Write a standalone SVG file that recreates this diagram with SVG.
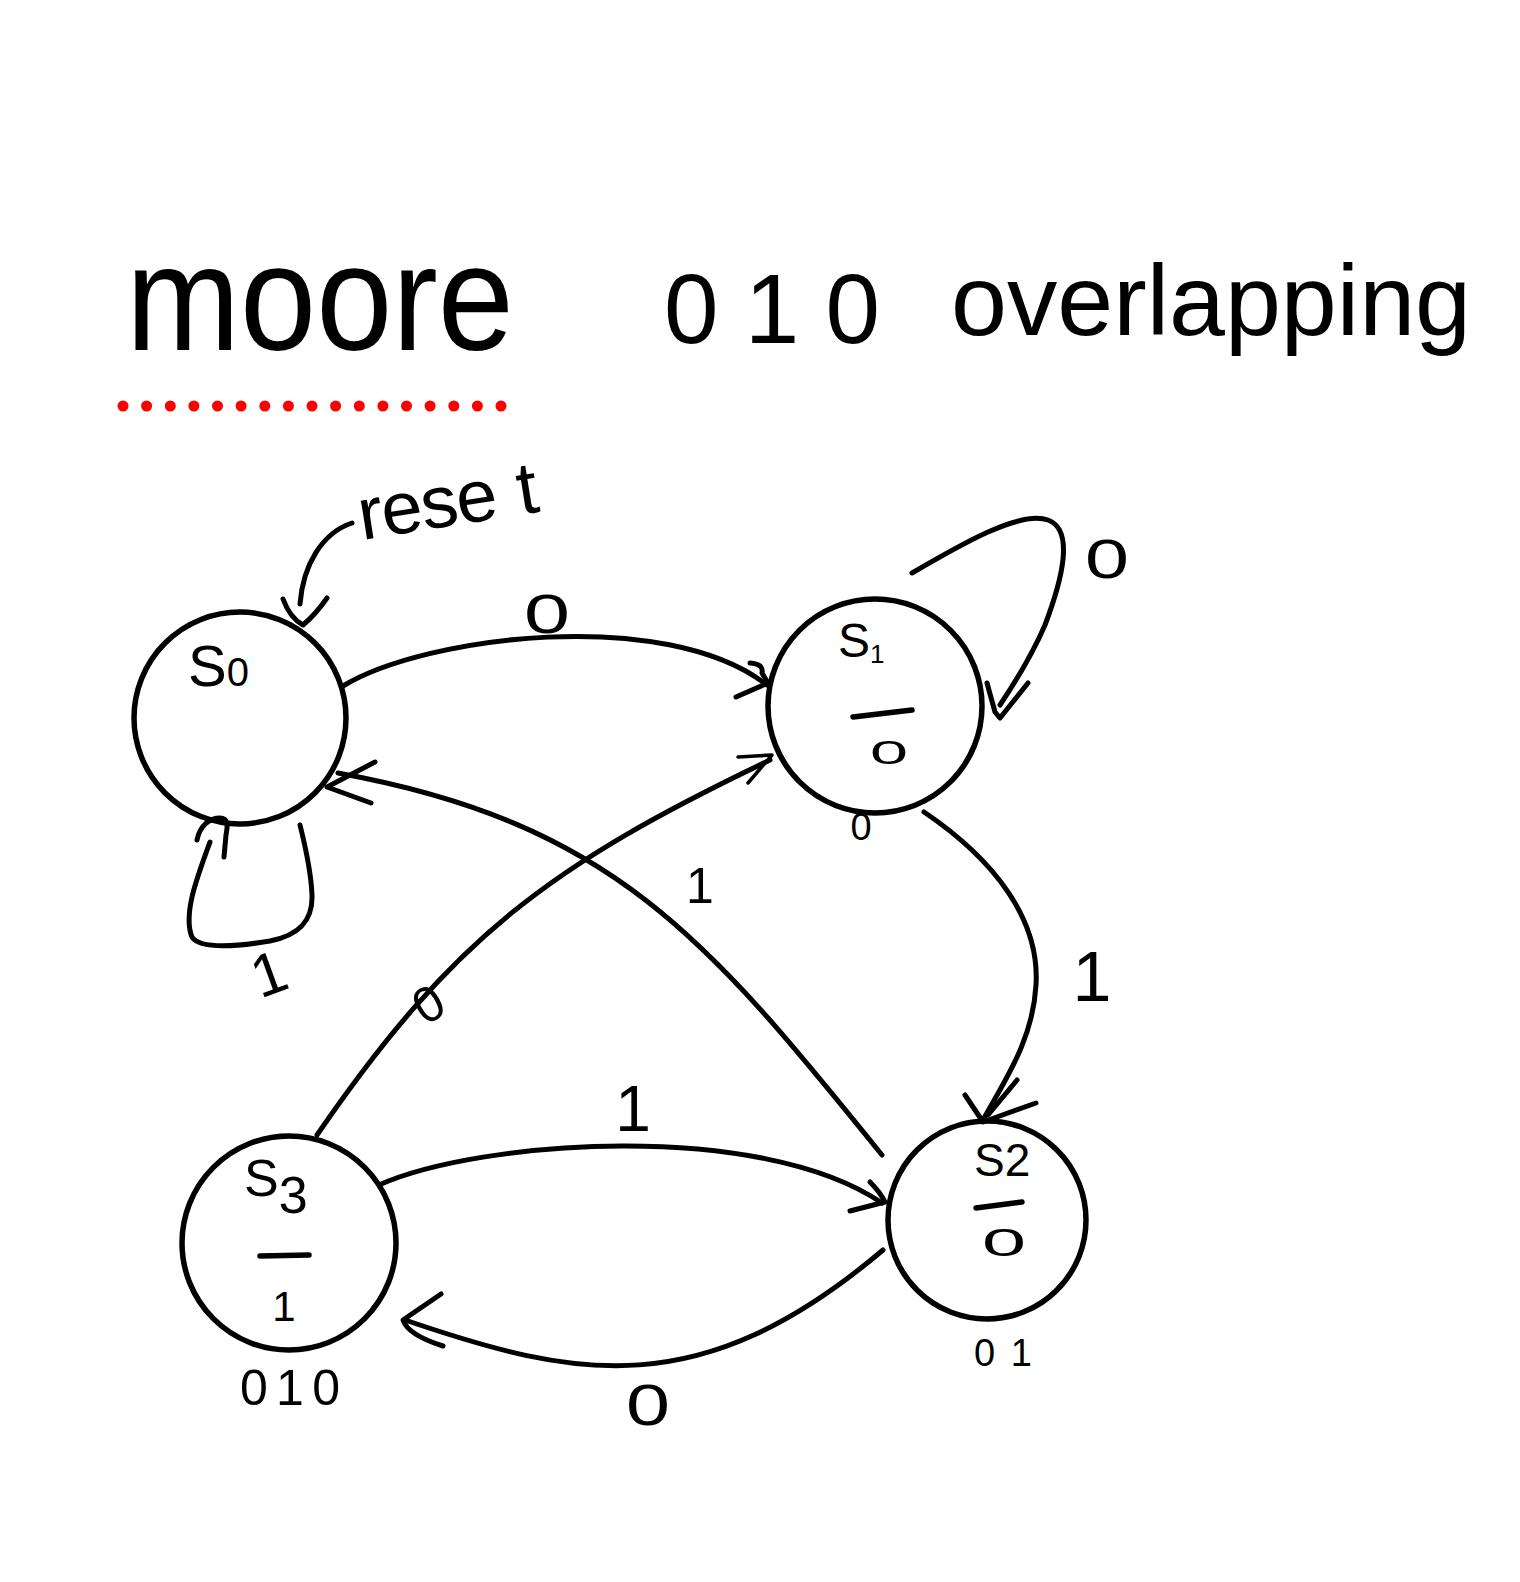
<svg xmlns="http://www.w3.org/2000/svg" width="1520" height="1582" viewBox="0 0 1520 1582">
<style>
  .node { fill: none; stroke: #000; stroke-width: 5.5; }
  .edge { fill: none; stroke: #000; stroke-width: 5; stroke-linecap: round; stroke-linejoin: round; }
  .head { fill: none; stroke: #000; stroke-width: 5; stroke-linecap: round; stroke-linejoin: round; }
  .thin { fill: none; stroke: #000; stroke-width: 3.5; stroke-linecap: round; stroke-linejoin: round; }
  .bar { fill: none; stroke: #000; stroke-width: 5.5; stroke-linecap: round; }
  .t { font-family: "Liberation Sans", Arial, sans-serif; fill: #000; }
  .dot { fill: #ff0000; }
</style>
<rect width="1520" height="1582" fill="#fff"/>

<g id="title">
  <text class="t" x="126" y="350" font-size="150" textLength="388" lengthAdjust="spacingAndGlyphs">moore</text>
  <text class="t" x="664" y="343" font-size="98" textLength="216" lengthAdjust="spacing">010</text>
  <text class="t" x="951" y="335" font-size="100" textLength="520" lengthAdjust="spacingAndGlyphs">overlapping</text>
</g>

<g id="underline">
  <circle class="dot" cx="123" cy="406" r="5.5"/>
  <circle class="dot" cx="146.6" cy="406" r="5.5"/>
  <circle class="dot" cx="170.3" cy="406" r="5.5"/>
  <circle class="dot" cx="193.9" cy="406" r="5.5"/>
  <circle class="dot" cx="217.5" cy="406" r="5.5"/>
  <circle class="dot" cx="241.1" cy="406" r="5.5"/>
  <circle class="dot" cx="264.8" cy="406" r="5.5"/>
  <circle class="dot" cx="288.4" cy="406" r="5.5"/>
  <circle class="dot" cx="312" cy="406" r="5.5"/>
  <circle class="dot" cx="335.6" cy="406" r="5.5"/>
  <circle class="dot" cx="359.3" cy="406" r="5.5"/>
  <circle class="dot" cx="382.9" cy="406" r="5.5"/>
  <circle class="dot" cx="406.5" cy="406" r="5.5"/>
  <circle class="dot" cx="430.1" cy="406" r="5.5"/>
  <circle class="dot" cx="453.8" cy="406" r="5.5"/>
  <circle class="dot" cx="477.4" cy="406" r="5.5"/>
  <circle class="dot" cx="501" cy="406" r="5.5"/>
</g>

<g id="S0">
  <circle class="node" cx="240" cy="718" r="106"/>
  <text class="t" x="188" y="686" font-size="58">S<tspan font-size="40">0</tspan></text>
</g>

<g id="S1">
  <circle class="node" cx="875" cy="706" r="107"/>
  <text class="t" x="838" y="657" font-size="48">S<tspan font-size="26" dy="6">1</tspan></text>
  <path class="bar" d="M853,717 L912,710"/>
  <text class="t" x="870" y="764" font-size="34" textLength="38" lengthAdjust="spacingAndGlyphs">0</text>
  <text class="t" x="861" y="840" font-size="38" text-anchor="middle">0</text>
</g>

<g id="S2">
  <circle class="node" cx="987" cy="1220" r="99"/>
  <text class="t" x="974" y="1176" font-size="46">S2</text>
  <path class="bar" d="M976,1208 L1022,1202"/>
  <text class="t" x="982" y="1256" font-size="38" textLength="44" lengthAdjust="spacingAndGlyphs">0</text>
  <text class="t" x="974" y="1366" font-size="38" textLength="58" lengthAdjust="spacing">01</text>
</g>

<g id="S3">
  <circle class="node" cx="289" cy="1243" r="107"/>
  <text class="t" x="244" y="1196" font-size="52">S<tspan dy="17">3</tspan></text>
  <path class="bar" d="M260,1256 L309,1255"/>
  <text class="t" x="284" y="1321" font-size="42" text-anchor="middle">1</text>
  <text class="t" x="240" y="1405" font-size="50" textLength="100" lengthAdjust="spacing">010</text>
</g>

<g id="connectors">
  <!-- reset -->
  <path class="edge" d="M352,523 C322,533 303,565 300,604"/>
  <path class="head" d="M283,599 Q290,618 303,625 Q316,614 327,598"/>
  <!-- S0 -> S1 -->
  <path class="edge" d="M343,686 C425,636 665,606 767,685"/>
  <path class="head" d="M750,663 Q764,664 762,673 L768,683 L736,697"/>
  <!-- S1 self loop -->
  <path class="edge" d="M912,573 C960,545 1020,510 1048,520 C1075,530 1062,580 1045,625 C1030,660 1010,690 1000,705"/>
  <path class="head" d="M987,683 L995,712 L1000,718 L1028,683"/>
  <!-- S0 self loop -->
  <path class="edge" d="M210,842 C196,880 183,915 192,937 C200,950 240,946 270,941 C300,935 313,920 312,895 C311,870 305,845 300,825"/>
  <path class="head" d="M197,840 C200,825 210,818 220,818 C228,818 228,825 226,835 L224,857"/>
  <!-- S2 -> S0 -->
  <path class="edge" d="M882,1155 C706,937 612,823 338,773"/>
  <path class="head" d="M375,762 L327,787 L371,803"/>
  <!-- S3 -> S1 -->
  <path class="edge" d="M317,1135 C453,937 550,865 770,760"/>
  <path class="thin" d="M738,757 L772,755 L748,783"/>
  <!-- S1 -> S2 -->
  <path class="edge" d="M924,812 C995,860 1040,920 1036,985 C1033,1040 1005,1080 983,1120"/>
  <path class="head" d="M965,1095 L983,1122 L1036,1103"/>
  <path class="head" d="M1017,1080 L988,1115"/>
  <!-- S3 -> S2 -->
  <path class="edge" d="M379,1185 C480,1140 760,1120 882,1203"/>
  <path class="head" d="M870,1182 Q880,1192 885,1202 L850,1211"/>
  <!-- S2 -> S3 -->
  <path class="edge" d="M883,1250 C700,1405 575,1378 405,1320"/>
  <path class="head" d="M441,1294 L403,1320 Q408,1335 443,1346"/>
</g>

<g id="edge-labels">
  <text class="t" font-size="74" transform="translate(362,540) rotate(-9)"><tspan textLength="140" lengthAdjust="spacing">rese</tspan><tspan dx="22">t</tspan></text>
  <text class="t" x="547" y="633" font-size="56" text-anchor="middle" textLength="46" lengthAdjust="spacingAndGlyphs">0</text>
  <text class="t" x="1107" y="578" font-size="56" text-anchor="middle" textLength="44" lengthAdjust="spacingAndGlyphs">0</text>
  <text class="t" x="1092" y="1001" font-size="70" text-anchor="middle">1</text>
  <text class="t" x="700" y="903" font-size="50" text-anchor="middle">1</text>
  <text class="t" font-size="50" text-anchor="middle" transform="translate(437,1019) rotate(-30)">0</text>
  <text class="t" x="633" y="1131" font-size="64" text-anchor="middle">1</text>
  <text class="t" x="648" y="1425" font-size="58" text-anchor="middle" textLength="44" lengthAdjust="spacingAndGlyphs">0</text>
  <text class="t" font-size="60" text-anchor="middle" transform="translate(276,993) rotate(-20)">1</text>
</g>
</svg>
